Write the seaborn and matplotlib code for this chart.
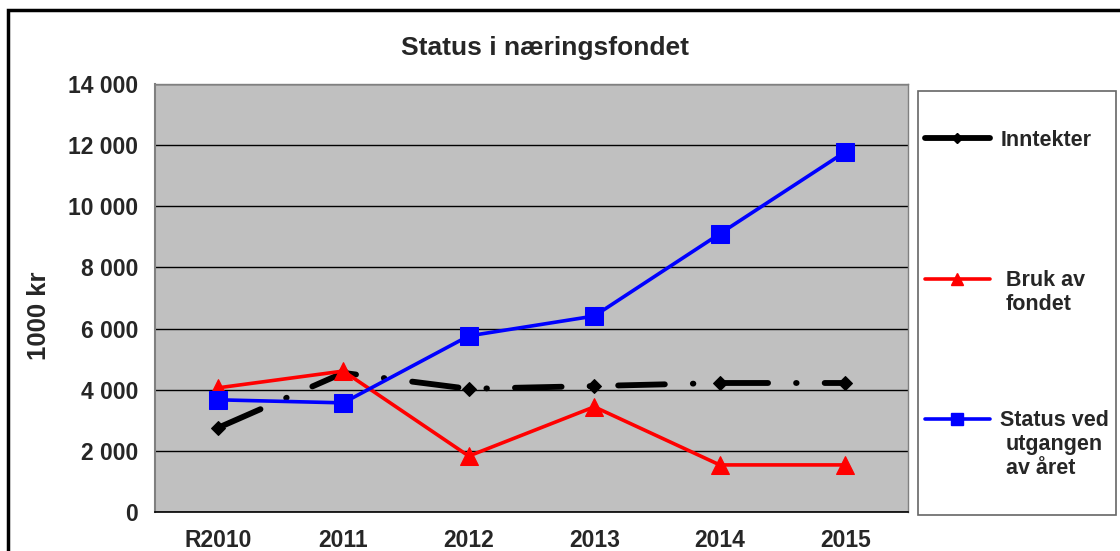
import matplotlib
matplotlib.use("Agg")
import matplotlib.pyplot as plt
from matplotlib.patches import Rectangle
from matplotlib.lines import Line2D
import seaborn as sns
import pandas as pd

categories = ["R2010", "2011", "2012", "2013", "2014", "2015"]
inntekter = [2750, 4550, 4030, 4120, 4220, 4220]
bruk = [4060, 4610, 1830, 3440, 1540, 1540]
status = [3670, 3570, 5760, 6410, 9100, 11780]
yticks = [0, 2000, 4000, 6000, 8000, 10000, 12000, 14000]
ytick_labels = ["0", "2 000", "4 000", "6 000", "8 000", "10 000", "12 000", "14 000"]
title = "Status i næringsfondet"
ylabel = "1000 kr"
labels = [["Inntekter"], [" Bruk av", "fondet"], ["Status ved", "utgangen", "av året"]]

sns.set_style("white")
plt.rcParams["font.family"] = ["Liberation Sans", "DejaVu Sans"]

df = pd.DataFrame({"x": categories, "inn": inntekter, "bruk": bruk, "status": status})

fig = plt.figure(figsize=(11.2, 5.51), dpi=100)
ax = fig.add_axes([155/1120, 1-512/551, (908-155)/1120, (512-84)/551])
ax.set_facecolor("#c0c0c0")

inn_style = (0, (8.0, 4.8, 0.1, 4.8))
sns.lineplot(data=df, x="x", y="inn", ax=ax, color="black", lw=4.2,
             marker="D", markersize=7, markeredgecolor="black", sort=False,
             linestyle=inn_style, dash_capstyle="round",
             solid_capstyle="round", zorder=3)
sns.lineplot(data=df, x="x", y="bruk", ax=ax, color="#ff0000", lw=2.6,
             marker="^", markersize=13, markeredgecolor="#ff0000", sort=False, zorder=4)
sns.lineplot(data=df, x="x", y="status", ax=ax, color="#0000ff", lw=2.6,
             marker="s", markersize=13.5, markeredgecolor="#0000ff", sort=False, zorder=5)

ax.set_xlim(-0.5, 5.5)
ax.set_ylim(0, 14000)
ax.set_yticks(yticks)
ax.set_yticklabels(ytick_labels, fontsize=16.5, fontweight="bold")
ax.set_xticks(range(len(categories)))
ax.set_xticklabels(categories, fontsize=16.5, fontweight="bold")
ax.set_xticks([i - 0.5 for i in range(len(categories) + 1)], minor=True)
ax.tick_params(axis="x", which="major", length=0, pad=12)
ax.tick_params(axis="x", which="minor", length=6, width=1, color="black", direction="out")
ax.tick_params(axis="y", which="major", length=6, width=1, color="black", direction="out", pad=6)
ax.set_xlabel("")
ax.set_ylabel(ylabel, fontsize=18.5, fontweight="bold")
ax.yaxis.set_label_coords(-0.138, 0.458)
ax.grid(axis="y", color="black", lw=1)
ax.set_axisbelow(True)
for s in ["top", "right"]:
    ax.spines[s].set_color("#808080")
    ax.spines[s].set_linewidth(1)
ax.spines["left"].set_color("#808080")
ax.spines["left"].set_linewidth(1.5)
ax.spines["bottom"].set_color("black")
ax.spines["bottom"].set_linewidth(1.2)

fig.text(545/1120, 1-48/551, title, fontsize=19, fontweight="bold", ha="center", va="center")

# figure border
fig.add_artist(Rectangle((8/1120, -0.05), 1.1, 1-10/551+0.05, transform=fig.transFigure,
                         fill=False, lw=2.5, edgecolor="black", clip_on=False))
# legend box
fig.add_artist(Rectangle((918/1120, 1-515/551), (1116-918)/1120, (515-91)/551,
                         transform=fig.transFigure, fill=False, lw=1.2, edgecolor="#666666"))

handles = [
    Line2D([], [], color="black", lw=4.2, marker="D", markersize=5, solid_capstyle="round"),
    Line2D([], [], color="#ff0000", lw=2.6, marker="^", markersize=9),
    Line2D([], [], color="#0000ff", lw=2.6, marker="s", markersize=9),
]
ys = [140, 281, 421]
line_h = 23.5
for h, lab, yy in zip(handles, labels, ys):
    fig.legend([h], [lab[0]], loc="center left",
               bbox_to_anchor=(925/1120, 1-yy/551), frameon=False,
               prop={"size": 15.5, "weight": "bold"}, handlelength=3.0,
               handletextpad=0.5, borderpad=0, labelspacing=0, borderaxespad=0)
    for k, extra in enumerate(lab[1:], start=1):
        fig.text(1006/1120, 1-(yy + k*line_h)/551, extra, fontsize=15.5,
                 fontweight="bold", ha="left", va="center")

fig.savefig("out.png", dpi=100)
